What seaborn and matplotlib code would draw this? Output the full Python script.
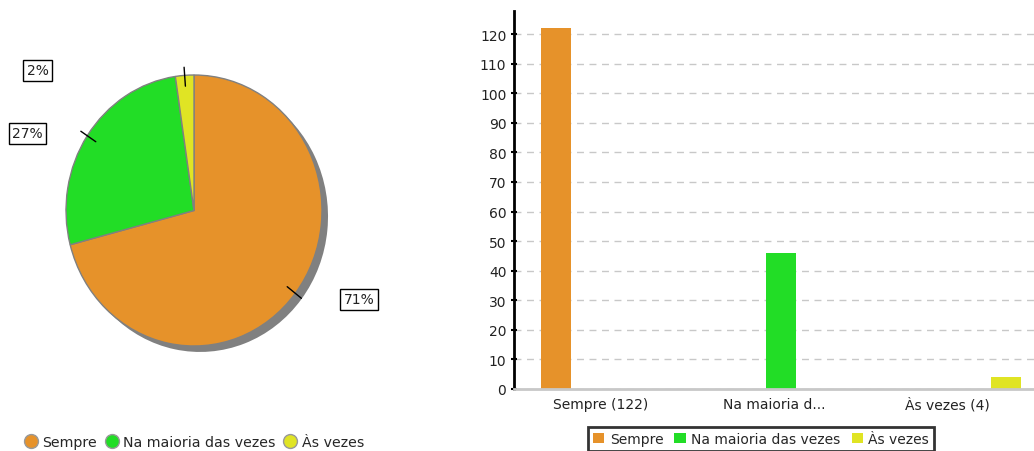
import numpy as np
import pandas as pd
import matplotlib
matplotlib.use("Agg")
import matplotlib.pyplot as plt
from matplotlib.patches import Patch
from matplotlib.lines import Line2D
import seaborn as sns

# ---- data ----
categories = ["Sempre", "Na maioria das vezes", "Às vezes"]
values = [122, 46, 4]
tick_labels = ["Sempre (122)", "Na maioria d...", "Às vezes (4)"]
colors = ["#E6922A", "#22DD26", "#E0E424"]

sns.set_theme(style="white")
plt.rcParams['font.family'] = ['DejaVu Sans']

fig = plt.figure(figsize=(10.34, 4.52), dpi=100)

# ---------------- bar chart ----------------
ax_bar = fig.add_axes([514 / 1034, 62 / 452, 520 / 1034, 378 / 452])
df = pd.DataFrame({"cat": categories, "val": values})
sns.barplot(data=df, x="cat", y="val", hue="cat", order=categories,
            hue_order=categories, palette=colors, dodge=True,
            width=0.888, gap=0.415, saturation=1, legend=False, ax=ax_bar)
ax_bar.set_xlim(-0.54, 2.46)
ax_bar.set_ylim(0, 127.8)
ax_bar.set_yticks(np.arange(0, 121, 10))
ax_bar.set_xticks([i - 0.04 for i in range(len(categories))])
ax_bar.set_xticklabels(tick_labels, fontsize=10, color="#222222")
ax_bar.tick_params(axis="y", labelsize=10, labelcolor="#222222", direction="inout",
                   length=5, width=1.5, color="black", left=True, pad=3)
ax_bar.tick_params(axis="x", length=0, pad=6)
ax_bar.set_xlabel("")
ax_bar.set_ylabel("")
ax_bar.yaxis.grid(True, linestyle=(0, (5, 4)), color="#c8c8c8", lw=1)
ax_bar.xaxis.grid(False)
ax_bar.set_axisbelow(True)
for s in ["top", "right"]:
    ax_bar.spines[s].set_visible(False)
ax_bar.spines["left"].set_color("black")
ax_bar.spines["left"].set_linewidth(2)
ax_bar.spines["bottom"].set_color("#c8c8c8")
ax_bar.spines["bottom"].set_linewidth(2)
for p in ax_bar.patches:
    p.set_edgecolor("none")

bar_handles = [Patch(facecolor=c, edgecolor="none") for c in colors]
leg2 = fig.legend(bar_handles, categories, loc="upper center",
                  bbox_to_anchor=(761 / 1034, 1 - 428 / 452), ncol=3,
                  frameon=True, fancybox=False, edgecolor="black",
                  handlelength=0.8, handleheight=0.8, columnspacing=0.8,
                  handletextpad=0.4, borderaxespad=0, borderpad=0.35,
                  fontsize=10)
leg2.get_frame().set_linewidth(2)

# ---------------- pie chart ----------------
ax_pie = fig.add_axes([2 / 1034, 37.25 / 452, 384 / 1034, 406.5 / 452])
# shadow
ax_pie.pie(values, colors=["#808080"] * len(values), startangle=90,
           counterclock=False, center=(0.047, -0.044),
           wedgeprops=dict(edgecolor="none"))
wedges, _ = ax_pie.pie(values, colors=colors, startangle=90, counterclock=False,
                       wedgeprops=dict(edgecolor="#808080", linewidth=1))
ax_pie.set_aspect("auto")
ax_pie.set_xlim(-1.5, 1.5)
ax_pie.set_ylim(-1.5, 1.5)
ax_pie.axis("off")

total = sum(values)
label_pos = [(1.29, -0.655), (-1.30, 0.57), (-1.22, 1.035)]
for w, v, pos in zip(wedges, values, label_pos):
    mid = np.deg2rad((w.theta1 + w.theta2) / 2)
    r0, r1 = 0.92, 1.06
    ax_pie.plot([r0 * np.cos(mid), r1 * np.cos(mid)],
                [r0 * np.sin(mid), r1 * np.sin(mid)], color="black", lw=1)
    ax_pie.text(pos[0], pos[1], f"{round(v / total * 100)}%", ha="center",
                va="center", fontsize=10, color="#222222",
                bbox=dict(boxstyle="square,pad=0.25", facecolor="white",
                          edgecolor="black", linewidth=1))

pie_handles = [Line2D([0], [0], marker="o", linestyle="none", markersize=10,
                      markerfacecolor=c, markeredgecolor="#999999")
               for c in colors]
fig.legend(pie_handles, categories, loc="center left",
           bbox_to_anchor=(25 / 1034, 1 - 443 / 452), ncol=3, frameon=False,
           handlelength=0.8, handletextpad=0.4, columnspacing=0.65,
           borderaxespad=0, borderpad=0, fontsize=10.2)

fig.savefig("out.png", dpi=100)
